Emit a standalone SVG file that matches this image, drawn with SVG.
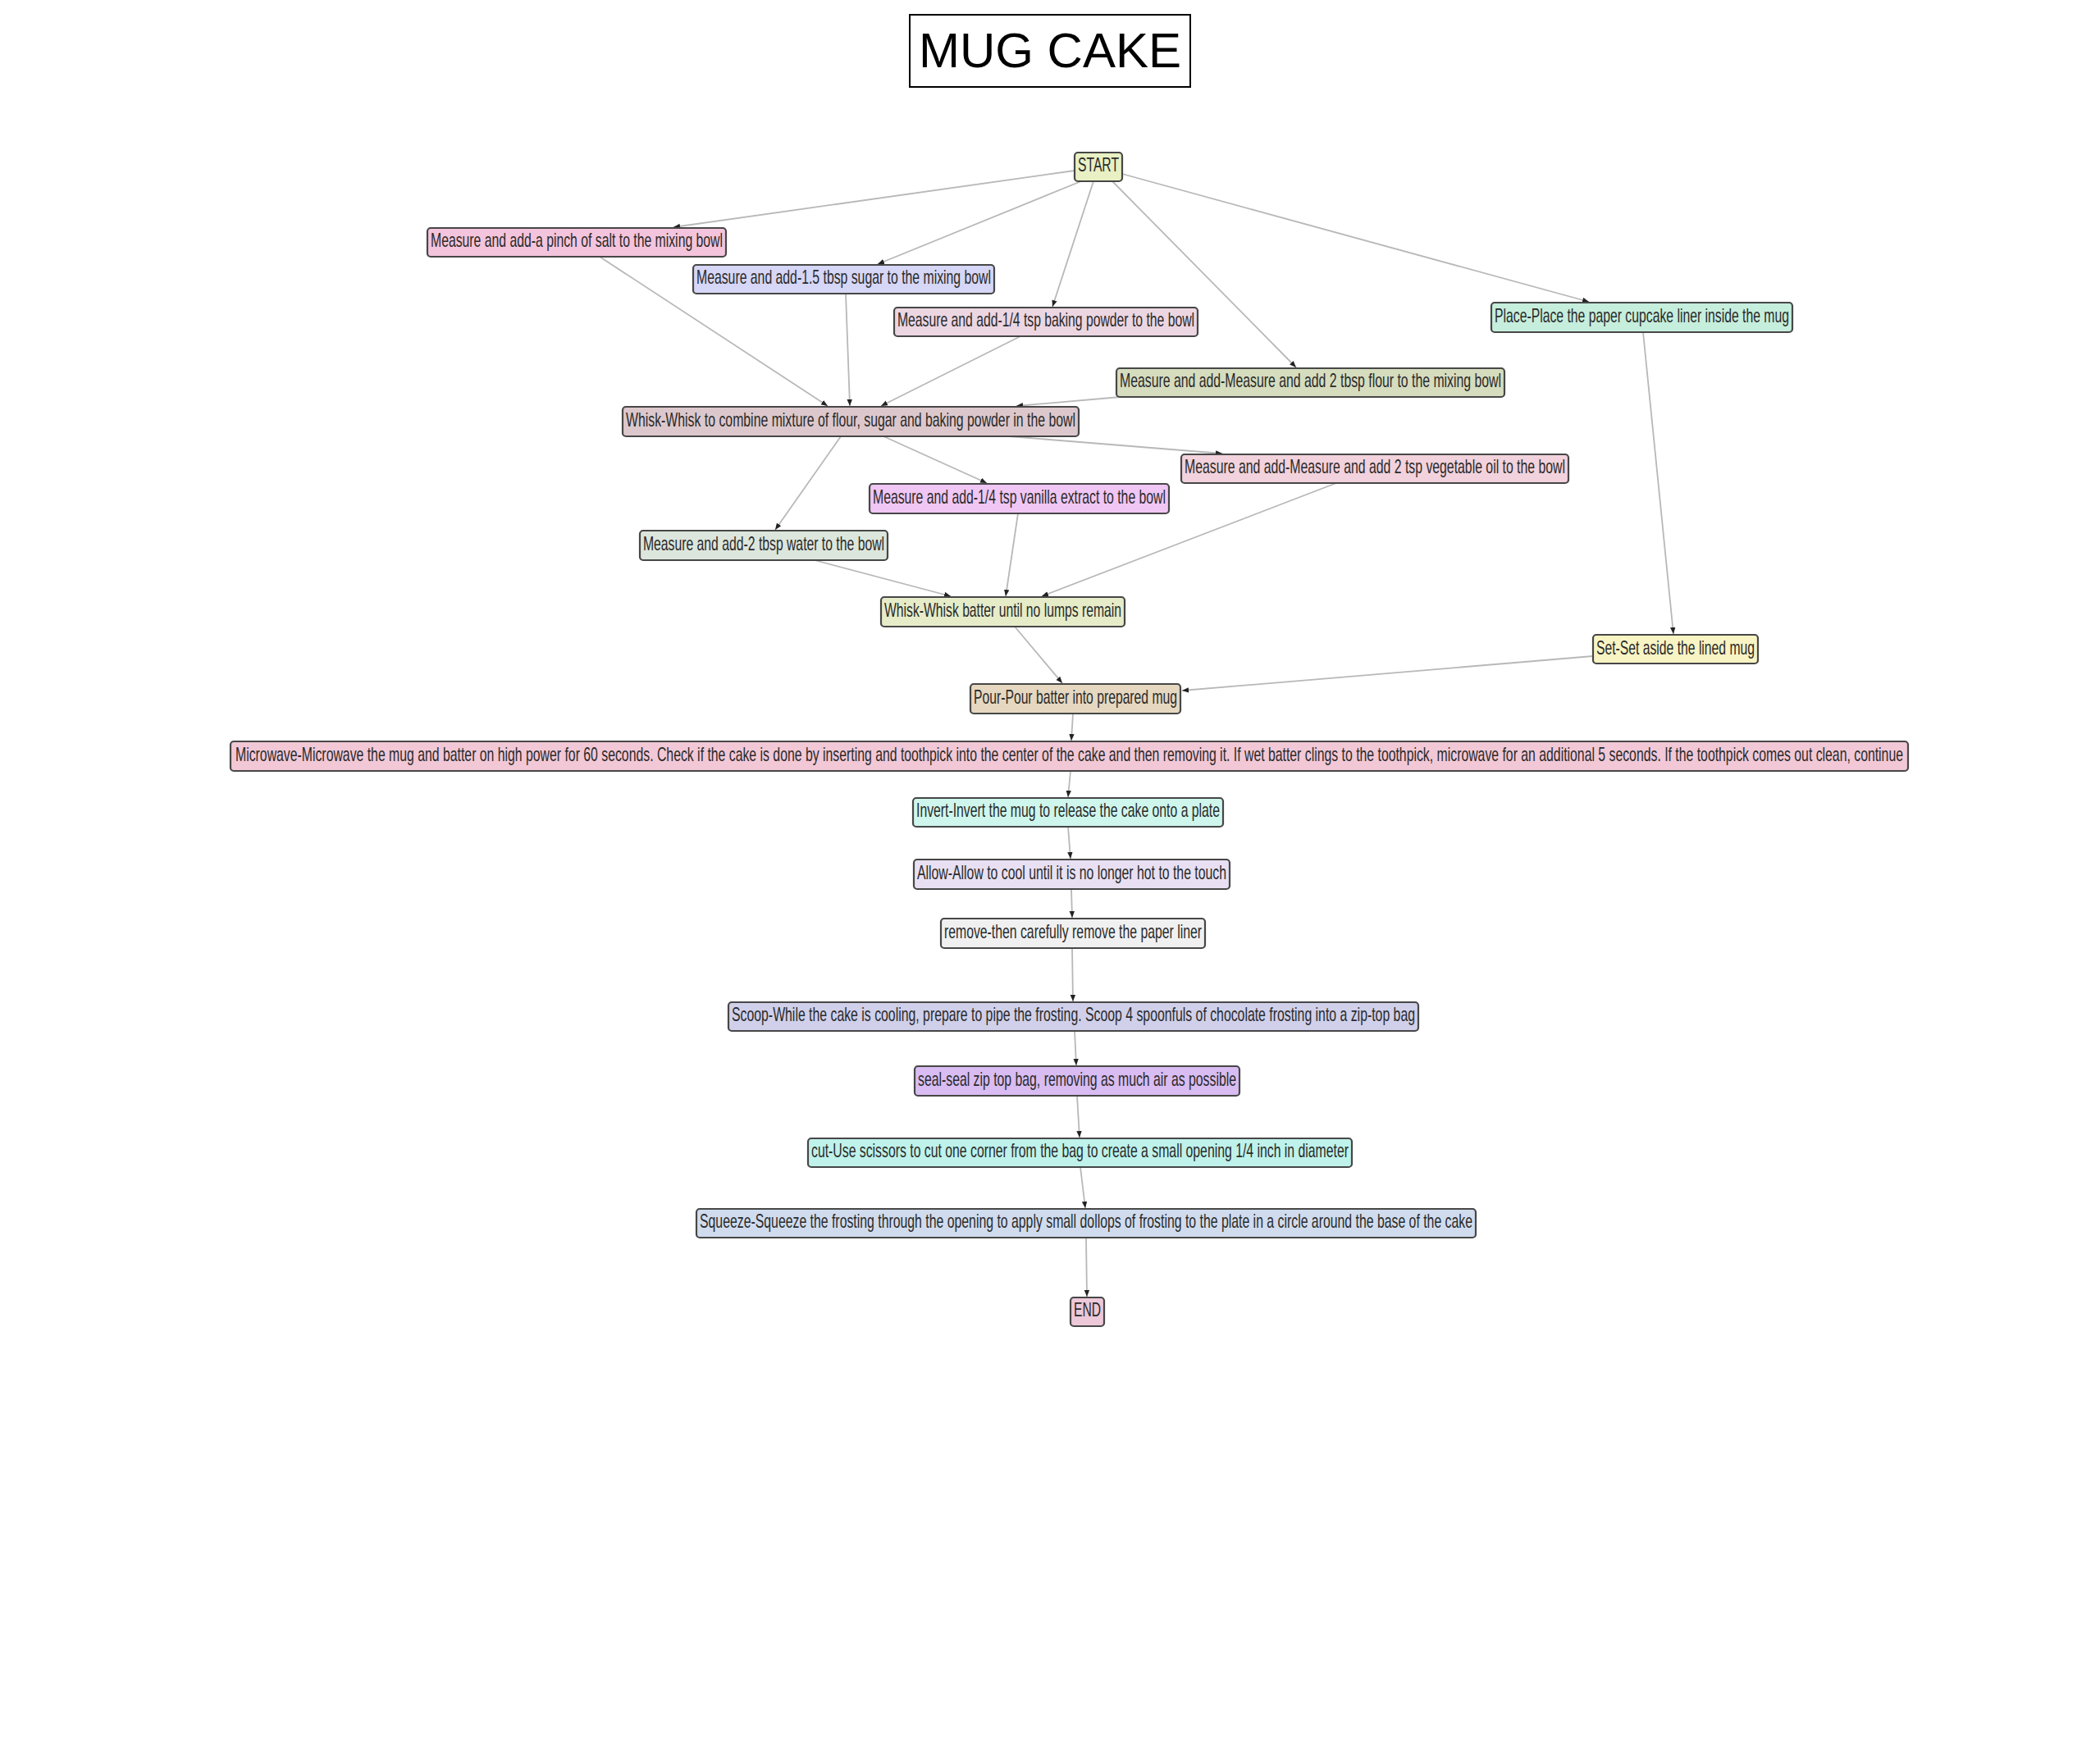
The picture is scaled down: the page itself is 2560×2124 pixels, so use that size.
<svg xmlns="http://www.w3.org/2000/svg" width="2560" height="2124" viewBox="0 0 2560 2124">
<style>
.n rect{stroke:#474747;stroke-width:2.2}
.n text{font-family:"Liberation Sans Narrow","Liberation Sans",Arial,sans-serif;font-size:24px;fill:#2a2a2a;text-anchor:middle}
.e line{stroke:#b8b8b8;stroke-width:1.8;fill:none}
.title{font-family:"Liberation Sans",Arial,sans-serif;font-size:60px;text-anchor:middle;fill:#000}
</style>
<defs>
<marker id="ah" viewBox="0 0 10 10" refX="10" refY="5" markerWidth="8" markerHeight="8" markerUnits="userSpaceOnUse" orient="auto">
<path d="M0,1 L10,5 L0,9 z" fill="#222"/>
</marker>
</defs>
<rect width="2560" height="2124" fill="#fff"/>
<g id="title">
<rect x="1109" y="18" width="342" height="88" fill="#fff" stroke="#000" stroke-width="2"/>
<text class="title" x="1280" y="82">MUG CAKE</text>
</g>
<g id="edges" class="e" marker-end="url(#ah)">
<line x1="1310" y1="208" x2="821" y2="277"/>
<line x1="1318" y1="221" x2="1070" y2="322"/>
<line x1="1333" y1="221" x2="1283" y2="374"/>
<line x1="1356" y1="221" x2="1580" y2="448"/>
<line x1="1368" y1="212" x2="1937" y2="368"/>
<line x1="731" y1="313" x2="1009" y2="495"/>
<line x1="1031" y1="358" x2="1036" y2="495"/>
<line x1="1244" y1="410" x2="1074" y2="495"/>
<line x1="1366" y1="484" x2="1239" y2="495"/>
<line x1="1230" y1="532" x2="1490" y2="553"/>
<line x1="1077" y1="532" x2="1203" y2="589"/>
<line x1="1025" y1="532" x2="945" y2="646"/>
<line x1="993" y1="683" x2="1159" y2="727"/>
<line x1="1241" y1="626" x2="1226" y2="727"/>
<line x1="1629" y1="589" x2="1270" y2="727"/>
<line x1="2003" y1="405" x2="2040" y2="773"/>
<line x1="1237" y1="764" x2="1295" y2="833"/>
<line x1="1942" y1="800" x2="1441" y2="842"/>
<line x1="1308" y1="870" x2="1306" y2="903"/>
<line x1="1305" y1="940" x2="1302" y2="972"/>
<line x1="1302" y1="1008" x2="1305" y2="1047"/>
<line x1="1306" y1="1084" x2="1307" y2="1119"/>
<line x1="1307" y1="1156" x2="1308" y2="1221"/>
<line x1="1310" y1="1257" x2="1312" y2="1299"/>
<line x1="1313" y1="1336" x2="1316" y2="1387"/>
<line x1="1317" y1="1423" x2="1323" y2="1473"/>
<line x1="1324" y1="1509" x2="1325" y2="1581"/>
</g>
<g id="n-start" class="n"><rect x="1310" y="186" width="58" height="35" rx="4" fill="#e8f0c4"/><text x="1339" y="209" textLength="50" lengthAdjust="spacingAndGlyphs">START</text></g>
<g id="n-salt" class="n"><rect x="521" y="278" width="364" height="35" rx="4" fill="#f4c4dc"/><text x="703" y="301" textLength="356" lengthAdjust="spacingAndGlyphs">Measure and add-a pinch of salt to the mixing bowl</text></g>
<g id="n-sugar" class="n"><rect x="845" y="323" width="367" height="35" rx="4" fill="#d6d6f6"/><text x="1028.5" y="346" textLength="359" lengthAdjust="spacingAndGlyphs">Measure and add-1.5 tbsp sugar to the mixing bowl</text></g>
<g id="n-bp" class="n"><rect x="1090" y="375" width="370" height="35" rx="4" fill="#ecd6e2"/><text x="1275" y="398" textLength="362" lengthAdjust="spacingAndGlyphs">Measure and add-1/4 tsp baking powder to the bowl</text></g>
<g id="n-place" class="n"><rect x="1818" y="369" width="367" height="36" rx="4" fill="#c6eedc"/><text x="2001.5" y="393" textLength="359" lengthAdjust="spacingAndGlyphs">Place-Place the paper cupcake liner inside the mug</text></g>
<g id="n-flour" class="n"><rect x="1361" y="449" width="473" height="35" rx="4" fill="#d6dcbe"/><text x="1597.5" y="472" textLength="465" lengthAdjust="spacingAndGlyphs">Measure and add-Measure and add 2 tbsp flour to the mixing bowl</text></g>
<g id="n-whisk1" class="n"><rect x="759" y="496" width="556" height="36" rx="4" fill="#dcc8cc"/><text x="1037" y="520" textLength="548" lengthAdjust="spacingAndGlyphs">Whisk-Whisk to combine mixture of flour, sugar and baking powder in the bowl</text></g>
<g id="n-oil" class="n"><rect x="1440" y="554" width="472" height="35" rx="4" fill="#f2d2dc"/><text x="1676" y="577" textLength="464" lengthAdjust="spacingAndGlyphs">Measure and add-Measure and add 2 tsp vegetable oil to the bowl</text></g>
<g id="n-vanilla" class="n"><rect x="1060" y="590" width="365" height="36" rx="4" fill="#f0c6f4"/><text x="1242.5" y="614" textLength="357" lengthAdjust="spacingAndGlyphs">Measure and add-1/4 tsp vanilla extract to the bowl</text></g>
<g id="n-water" class="n"><rect x="780" y="647" width="302" height="36" rx="4" fill="#dce6dc"/><text x="931" y="671" textLength="294" lengthAdjust="spacingAndGlyphs">Measure and add-2 tbsp water to the bowl</text></g>
<g id="n-whisk2" class="n"><rect x="1074" y="728" width="297" height="36" rx="4" fill="#e6ecc8"/><text x="1222.5" y="752" textLength="289" lengthAdjust="spacingAndGlyphs">Whisk-Whisk batter until no lumps remain</text></g>
<g id="n-set" class="n"><rect x="1942" y="774" width="201" height="35" rx="4" fill="#f8f4c4"/><text x="2042.5" y="798" textLength="193" lengthAdjust="spacingAndGlyphs">Set-Set aside the lined mug</text></g>
<g id="n-pour" class="n"><rect x="1183" y="834" width="256" height="36" rx="4" fill="#e6d8c0"/><text x="1311" y="858" textLength="248" lengthAdjust="spacingAndGlyphs">Pour-Pour batter into prepared mug</text></g>
<g id="n-micro" class="n"><rect x="281" y="904" width="2045" height="36" rx="4" fill="#f2c8d6"/><text x="1303.5" y="928" textLength="2033" lengthAdjust="spacingAndGlyphs">Microwave-Microwave the mug and batter on high power for 60 seconds. Check if the cake is done by inserting and toothpick into the center of the cake and then removing it. If wet batter clings to the toothpick, microwave for an additional 5 seconds. If the toothpick comes out clean, continue</text></g>
<g id="n-invert" class="n"><rect x="1113" y="973" width="378" height="35" rx="4" fill="#cef6ec"/><text x="1302" y="996" textLength="370" lengthAdjust="spacingAndGlyphs">Invert-Invert the mug to release the cake onto a plate</text></g>
<g id="n-allow" class="n"><rect x="1114" y="1048" width="385" height="36" rx="4" fill="#e8e0f2"/><text x="1306.5" y="1072" textLength="377" lengthAdjust="spacingAndGlyphs">Allow-Allow to cool until it is no longer hot to the touch</text></g>
<g id="n-remove" class="n"><rect x="1147" y="1120" width="322" height="36" rx="4" fill="#f0f0f0"/><text x="1308" y="1144" textLength="314" lengthAdjust="spacingAndGlyphs">remove-then carefully remove the paper liner</text></g>
<g id="n-scoop" class="n"><rect x="888" y="1222" width="841" height="35" rx="4" fill="#d0d0ea"/><text x="1308.5" y="1245" textLength="833" lengthAdjust="spacingAndGlyphs">Scoop-While the cake is cooling, prepare to pipe the frosting. Scoop 4 spoonfuls of chocolate frosting into a zip-top bag</text></g>
<g id="n-seal" class="n"><rect x="1115" y="1300" width="396" height="36" rx="4" fill="#d8bcf2"/><text x="1313" y="1324" textLength="388" lengthAdjust="spacingAndGlyphs">seal-seal zip top bag, removing as much air as possible</text></g>
<g id="n-cut" class="n"><rect x="985" y="1388" width="663" height="35" rx="4" fill="#bef2ea"/><text x="1316.5" y="1411" textLength="655" lengthAdjust="spacingAndGlyphs">cut-Use scissors to cut one corner from the bag to create a small opening 1/4 inch in diameter</text></g>
<g id="n-squeeze" class="n"><rect x="849" y="1474" width="950" height="35" rx="4" fill="#d0dcee"/><text x="1324" y="1497" textLength="942" lengthAdjust="spacingAndGlyphs">Squeeze-Squeeze the frosting through the opening to apply small dollops of frosting to the plate in a circle around the base of the cake</text></g>
<g id="n-end" class="n"><rect x="1305" y="1582" width="41" height="35" rx="4" fill="#ecc8d8"/><text x="1325.5" y="1605" textLength="33" lengthAdjust="spacingAndGlyphs">END</text></g>
</svg>
